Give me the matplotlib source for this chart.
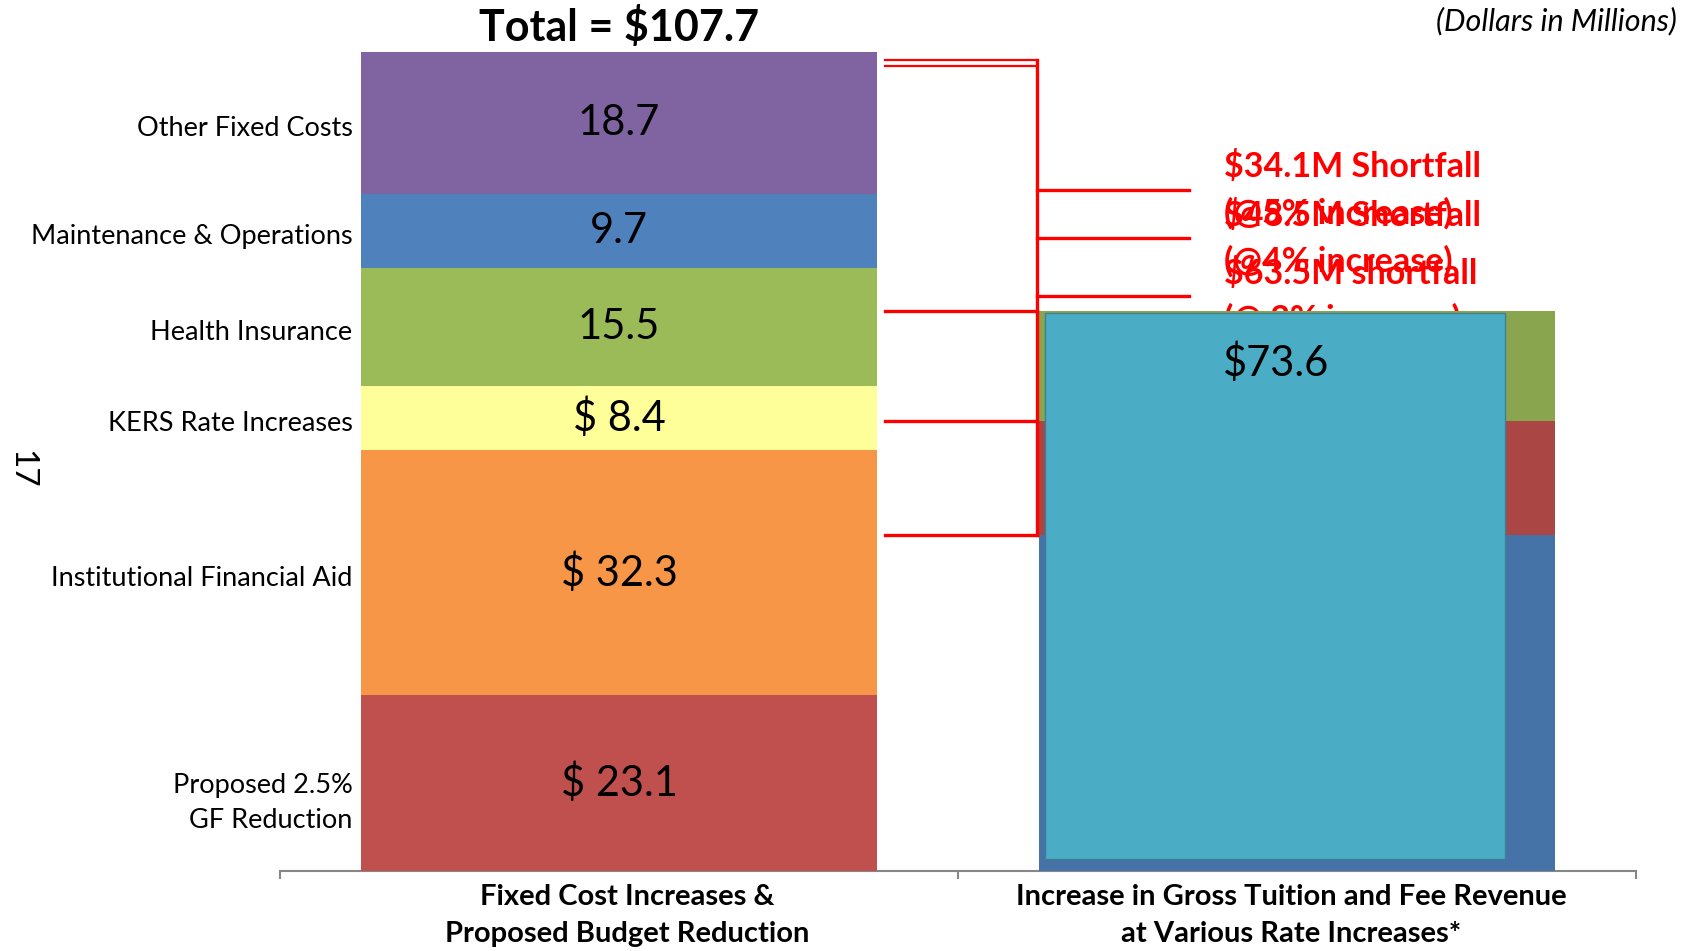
import matplotlib
matplotlib.use("Agg")
import matplotlib.pyplot as plt
import matplotlib.transforms as mtransforms
from matplotlib.patches import Rectangle

plt.rcParams['font.family'] = ['Lato', 'DejaVu Sans']

# 左侧：固定成本增加 + 预算削减（自下而上）
cost_labels = ['Proposed 2.5%\nGF Reduction', 'Institutional Financial Aid',
               'KERS Rate Increases', 'Health Insurance',
               'Maintenance & Operations', 'Other Fixed Costs']
cost_values = [23.1, 32.3, 8.4, 15.5, 9.7, 18.7]
cost_texts = ['$ 23.1', '$ 32.3', '$ 8.4', '15.5', '9.7', '18.7']
cost_colors = ['#C0504D', '#F79646', '#FFFF99', '#9BBB59', '#4F81BD', '#8064A2']

# 右侧：不同涨幅下学费收入增加（累计值 3%, 4%, 5%）
rate_names = ['3%', '4%', '5%']
revenue_levels = [44.2, 59.2, 73.6]
rev_colors = ['#4572A7', '#AA4643', '#89A54E']
shortfall_texts = ['$63.5M shortfall\n(@ 3% increase)',
                   '$48.5M Shortfall\n(@4% increase)',
                   '$34.1M Shortfall\n(@5% increase)']
shortfall_y = [75.6, 83.2, 89.6]

categories = ['Fixed Cost Increases &\nProposed Budget Reduction',
              'Increase in Gross Tuition and Fee Revenue\nat Various Rate Increases*']

total = sum(cost_values)
bar_w = 0.762
red = '#FF0000'

fig = plt.figure(figsize=(16.88, 9.51), dpi=100)
ax = fig.add_axes([0.1659, 0.0841, 0.8033, 0.8612])
ax.set_xlim(-0.5, 1.5)
ax.set_ylim(0, total)

# 左侧堆叠柱
bottom = 0
for i, (lab, val, txt, col) in enumerate(zip(cost_labels, cost_values, cost_texts, cost_colors)):
    ax.bar(0, val, bottom=bottom, width=bar_w, color=col, zorder=3)
    mid = bottom + val / 2
    ax.text(0, mid, txt, ha='center', va='center', fontsize=30, zorder=5)
    dy = -14 if i == 0 else -4   # 两行标签在原图中略偏下
    ax.annotate(lab, xy=(-bar_w / 2, mid), xytext=(-6, dy),
                textcoords='offset points', ha='right', va='center',
                fontsize=19.5, linespacing=1.5, annotation_clip=False)
    bottom += val

# 右侧堆叠柱
prev = 0
for lvl, col in zip(revenue_levels, rev_colors):
    ax.bar(1, lvl - prev, bottom=prev, width=bar_w, color=col, zorder=3)
    prev = lvl

# 覆盖在右侧柱上的文本框
top_rev = revenue_levels[-1]
ax.add_patch(Rectangle((1 - 0.372, 1.6), 0.679, top_rev - 0.2 - 1.6,
                       facecolor='#4BACC6', edgecolor='#3E7F95', lw=1, zorder=4))
ax.text(0.969, top_rev - 6.7, f'${top_rev}', ha='center', va='center',
        fontsize=30, zorder=5)

# 红色括号线
x0 = bar_w / 2 + 0.011
xv = 1 - bar_w / 2 - 0.003
xr = 0.841
ax.plot([x0, xv], [total - 1.1] * 2, color=red, lw=1.6, zorder=6)
ax.plot([x0, xv], [total - 1.8] * 2, color=red, lw=1.6, zorder=6)
ax.plot([xv, xv], [total - 1.1, revenue_levels[0]], color=red, lw=2.4, zorder=6)
for lvl in revenue_levels:
    ax.plot([x0, xv], [lvl, lvl], color=red, lw=2.4, zorder=6)
for y, txt in zip(shortfall_y, shortfall_texts):
    ax.plot([xv, xr], [y, y], color=red, lw=2.4, zorder=6)
    ax.text(0.892, y, txt, color=red, fontsize=24.5, fontweight='bold',
            ha='left', va='center', linespacing=1.5, zorder=2)

# 标题及其他文字
ax.annotate(f'Total = ${total:.1f}', xy=(0, total), xytext=(0, 18),
            textcoords='offset points', ha='center', va='center',
            fontsize=31, fontweight='bold', annotation_clip=False)
fig.text(0.9935, 0.978, '(Dollars in Millions)', ha='right', va='center',
         fontsize=22, style='italic')
fig.text(0.0127, 0.506, '17', ha='center', va='center', fontsize=24, rotation=270)

# 坐标轴
for s in ['top', 'left', 'right']:
    ax.spines[s].set_visible(False)
ax.spines['bottom'].set_color('#878787')
ax.spines['bottom'].set_linewidth(1.5)
ax.set_yticks([])
ax.set_xticks([0, 1])
ax.set_xticklabels(categories, fontsize=21, fontweight='bold', linespacing=1.55)
ax.tick_params(axis='x', which='major', length=0, pad=9)
ax.set_xticks([-0.5, 0.5, 1.5], minor=True)
ax.tick_params(axis='x', which='minor', length=6, width=1.5, color='#878787')

# 原图中分类标签略有偏移
for lbl, dx in zip(ax.get_xticklabels(), [6, -4]):
    lbl.set_transform(lbl.get_transform() +
                      mtransforms.ScaledTranslation(dx / 72, 0, fig.dpi_scale_trans))

fig.savefig('out.png', dpi=100)
